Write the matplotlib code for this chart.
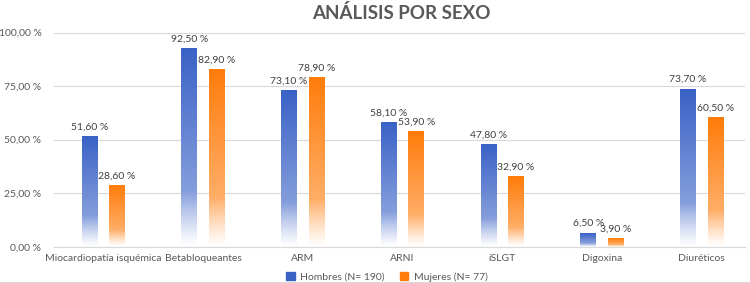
import numpy as np
import matplotlib.pyplot as plt
from matplotlib.colors import to_rgb
from matplotlib.patches import Patch
from matplotlib.lines import Line2D

plt.rcParams['font.family'] = ['Lato', 'DejaVu Sans']

categorias = ["Miocardiopatía isquémica", "Betabloqueantes", "ARM", "ARNI",
              "iSLGT", "Digoxina", "Diuréticos"]
hombres = [51.6, 92.5, 73.1, 58.1, 47.8, 6.5, 73.7]
mujeres = [28.6, 82.9, 78.9, 53.9, 32.9, 3.9, 60.5]
series_labels = ["Hombres (N= 190)", "Mujeres (N= 77)"]
yticks = [0, 25, 50, 75, 100]

azul = "#3A62C6"
naranja = "#FF7C0A"


def gradient_img(color, n=200):
    # dark at top, lighter further down, fading to white at the bottom
    c = np.array(to_rgb(color))
    w = np.ones(3)
    t = np.linspace(0, 1, n)  # 0 = bottom, 1 = top
    img = np.zeros((n, 1, 3))
    for i, v in enumerate(t):
        if v < 0.28:
            f = (v / 0.28) ** 1.2 * 0.62
        else:
            f = 0.62 + (v - 0.28) / 0.72 * 0.38
        img[i, 0] = w + (c - w) * f
    return img[::-1]


fig = plt.figure(figsize=(7.5, 2.83), dpi=100)
ax = fig.add_axes([0.072, 0.128, 0.921, 0.757])

x = np.arange(len(categorias))
ancho = 0.16
desp = 0.138

for vals, col, lab, sgn in [(hombres, azul, series_labels[0], -1),
                            (mujeres, naranja, series_labels[1], 1)]:
    bars = ax.bar(x + sgn * desp, vals, ancho, color=col, label=lab,
                  zorder=1, alpha=0)
    img = gradient_img(col)
    for b, v in zip(bars, vals):
        ax.imshow(img, extent=(b.get_x(), b.get_x() + b.get_width(), 0, v),
                  aspect='auto', zorder=2, interpolation='bilinear')
        ax.text(b.get_x() + b.get_width() / 2, v + 2.2,
                f"{v:.2f}".replace(".", ",") + " %",
                ha='center', va='bottom', fontsize=7.5, color="#404040")

ax.set_xlim(-0.494, 6.43)
ax.set_ylim(0, 100)
ax.set_yticks(yticks)
ax.set_yticklabels([f"{v:.2f}".replace(".", ",") + " %" for v in yticks],
                   fontsize=7.5, color="#595959")
ax.set_xticks(x)
ax.set_xticklabels(categorias, fontsize=7.5, color="#595959")
ax.tick_params(axis='x', length=0, pad=5)
ax.tick_params(axis='y', length=0, pad=9)
ax.grid(axis='y', color="#D9D9D9", linewidth=0.8, zorder=0)
ax.set_axisbelow(True)
for s in ["top", "right", "left"]:
    ax.spines[s].set_visible(False)
ax.spines["bottom"].set_color("#D9D9D9")

fig.text(0.535, 0.955, "ANÁLISIS POR SEXO", ha='center', va='center',
         fontsize=13.5, fontweight='bold', color="#595959")

handles = [Patch(color=azul), Patch(color=naranja)]
fig.legend(handles, series_labels, loc='center', bbox_to_anchor=(0.516, 0.022),
           ncol=2, frameon=False, fontsize=7.5, handlelength=0.8,
           handleheight=0.8, columnspacing=1.5, handletextpad=0.5,
           labelcolor="#595959")

# chart border along the bottom edge
fig.add_artist(Line2D([0, 1], [0.005, 0.005], transform=fig.transFigure,
                      color="#D9D9D9", linewidth=0.8))

fig.savefig("out.png", dpi=100)
